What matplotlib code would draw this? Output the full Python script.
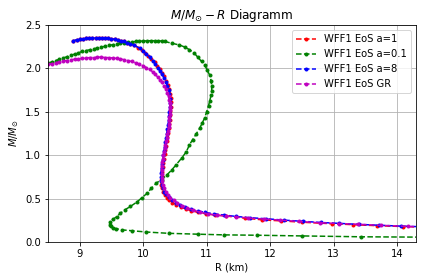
import matplotlib
matplotlib.use("Agg")
import matplotlib.pyplot as plt

# ---- data (R in km, M in solar masses) ----
R_a1 = [8.90, 8.95, 9.00, 9.05, 9.10, 9.15, 9.20, 9.25, 9.30, 9.35, 9.40, 9.45, 9.50, 9.55, 9.60,
        9.65, 9.70, 9.75, 9.80, 9.86, 9.92, 9.98, 10.03, 10.08, 10.13, 10.18, 10.22, 10.26, 10.30,
        10.33, 10.36, 10.39, 10.41, 10.43, 10.44, 10.44, 10.44, 10.43, 10.43, 10.42, 10.41, 10.40,
        10.39, 10.38, 10.37, 10.36, 10.35, 10.34, 10.33, 10.32, 10.31, 10.30, 10.29, 10.28, 10.28,
        10.29, 10.31, 10.34, 10.37, 10.41, 10.46, 10.52, 10.59, 10.67, 10.76, 10.87, 10.99, 11.13,
        11.30, 11.60, 11.88, 12.18, 12.50, 12.98, 13.30, 13.68, 14.10, 14.50]
M_a1 = [2.315, 2.325, 2.335, 2.34, 2.345, 2.35, 2.352, 2.354, 2.355, 2.354, 2.352, 2.348, 2.343, 2.337, 2.33,
        2.32, 2.31, 2.298, 2.285, 2.265, 2.24, 2.21, 2.18, 2.145, 2.11, 2.07, 2.03, 1.99, 1.95,
        1.91, 1.86, 1.81, 1.76, 1.71, 1.66, 1.61, 1.56, 1.51, 1.46, 1.41, 1.36, 1.31,
        1.26, 1.21, 1.16, 1.11, 1.06, 1.01, 0.96, 0.91, 0.86, 0.81, 0.76, 0.71, 0.66,
        0.62, 0.58, 0.545, 0.51, 0.48, 0.455, 0.43, 0.405, 0.38, 0.36, 0.34, 0.325, 0.31,
        0.30, 0.275, 0.255, 0.243, 0.228, 0.21, 0.20, 0.188, 0.178, 0.17]

R_a01 = [8.50, 8.56, 8.62, 8.68, 8.74, 8.80, 8.86, 8.92, 8.98, 9.04, 9.10, 9.16, 9.22, 9.28, 9.34,
         9.40, 9.46, 9.52, 9.58, 9.64, 9.70, 9.76, 9.82, 9.88, 9.94, 10.00, 10.06, 10.12, 10.18,
         10.24, 10.30, 10.34, 10.45, 10.57, 10.66, 10.73, 10.80, 10.86, 10.92, 10.97, 11.01, 11.05,
         11.07, 11.08, 11.08, 11.07, 11.05, 11.03, 11.00, 10.97, 10.93, 10.89, 10.84, 10.78, 10.73,
         10.68, 10.61, 10.52, 10.45, 10.37, 10.29, 10.21, 10.13, 10.06, 9.98, 9.90, 9.80, 9.71,
         9.64, 9.58, 9.52, 9.48, 9.47, 9.49, 9.52, 9.57, 9.66, 9.82, 10.05, 10.40, 10.86, 11.28,
         11.79, 12.50, 13.44, 14.60]
M_a01 = [2.06, 2.075, 2.09, 2.105, 2.12, 2.135, 2.15, 2.165, 2.18, 2.195, 2.205, 2.215, 2.225, 2.235, 2.245,
         2.255, 2.265, 2.273, 2.28, 2.288, 2.295, 2.30, 2.305, 2.31, 2.313, 2.316, 2.318, 2.319, 2.319,
         2.318, 2.315, 2.31, 2.29, 2.27, 2.245, 2.215, 2.18, 2.13, 2.08, 2.04, 1.98, 1.92,
         1.86, 1.80, 1.74, 1.69, 1.63, 1.57, 1.50, 1.43, 1.37, 1.31, 1.25, 1.18, 1.12,
         1.04, 0.97, 0.89, 0.83, 0.77, 0.72, 0.68, 0.62, 0.56, 0.51, 0.46, 0.41, 0.37,
         0.33, 0.29, 0.26, 0.23, 0.20, 0.18, 0.165, 0.155, 0.14, 0.13, 0.115, 0.10, 0.09, 0.082,
         0.078, 0.07, 0.06, 0.055]

R_a8 = [8.90, 8.95, 9.00, 9.05, 9.10, 9.15, 9.20, 9.25, 9.30, 9.35, 9.40, 9.45, 9.50, 9.55, 9.60,
        9.65, 9.70, 9.75, 9.80, 9.85, 9.95, 10.00, 10.05, 10.10, 10.15, 10.19, 10.23, 10.27, 10.30,
        10.33, 10.36, 10.38, 10.40, 10.41, 10.42, 10.42, 10.42, 10.41, 10.41, 10.40, 10.39, 10.38,
        10.37, 10.36, 10.35, 10.34, 10.33, 10.32, 10.31, 10.30, 10.29, 10.28, 10.28, 10.28, 10.29,
        10.31, 10.33, 10.36, 10.40, 10.45, 10.51, 10.58, 10.66, 10.75, 10.86, 10.98, 11.12, 11.28,
        11.46, 11.68, 11.94, 12.22, 12.52, 12.80, 13.08, 13.40, 13.72, 14.06, 14.42]
M_a8 = [2.32, 2.33, 2.335, 2.34, 2.345, 2.35, 2.35, 2.352, 2.352, 2.35, 2.35, 2.345, 2.34, 2.335, 2.33,
        2.32, 2.31, 2.295, 2.28, 2.27, 2.23, 2.20, 2.165, 2.13, 2.09, 2.05, 2.01, 1.97, 1.93,
        1.89, 1.84, 1.80, 1.75, 1.70, 1.65, 1.60, 1.55, 1.50, 1.45, 1.40, 1.35, 1.30,
        1.25, 1.20, 1.15, 1.10, 1.05, 1.00, 0.95, 0.90, 0.85, 0.80, 0.75, 0.70, 0.66,
        0.62, 0.58, 0.55, 0.515, 0.485, 0.455, 0.43, 0.405, 0.38, 0.36, 0.34, 0.325, 0.31,
        0.295, 0.28, 0.268, 0.252, 0.238, 0.225, 0.215, 0.203, 0.193, 0.183, 0.175]

R_gr = [8.50, 8.56, 8.62, 8.68, 8.74, 8.80, 8.86, 8.92, 8.98, 9.04, 9.10, 9.16, 9.22, 9.28, 9.34,
        9.40, 9.46, 9.52, 9.58, 9.64, 9.70, 9.76, 9.82, 9.88, 9.94, 10.00, 10.05, 10.10, 10.15,
        10.19, 10.23, 10.27, 10.30, 10.33, 10.36, 10.38, 10.40, 10.41, 10.42, 10.42, 10.42, 10.42,
        10.41, 10.41, 10.40, 10.40, 10.39, 10.38, 10.37, 10.36, 10.35, 10.34, 10.33, 10.32, 10.31,
        10.30, 10.29, 10.29, 10.29, 10.29, 10.30, 10.31, 10.33, 10.36, 10.39, 10.43, 10.48, 10.54, 10.61,
        10.69, 10.78, 10.89, 11.02, 11.16, 11.31, 11.47, 11.66, 11.90, 12.15, 12.45, 12.78, 13.08,
        13.38, 13.75, 14.17, 14.60]
M_gr = [2.045, 2.055, 2.065, 2.075, 2.085, 2.09, 2.10, 2.105, 2.11, 2.115, 2.12, 2.125, 2.125, 2.13, 2.13,
        2.125, 2.125, 2.12, 2.115, 2.11, 2.10, 2.09, 2.08, 2.065, 2.05, 2.03, 2.01, 1.99, 1.96,
        1.93, 1.90, 1.87, 1.84, 1.80, 1.76, 1.72, 1.68, 1.64, 1.60, 1.56, 1.52, 1.48,
        1.44, 1.40, 1.36, 1.32, 1.28, 1.24, 1.20, 1.16, 1.12, 1.08, 1.04, 1.00, 0.96,
        0.92, 0.88, 0.83, 0.78, 0.74, 0.70, 0.66, 0.62, 0.58, 0.545, 0.51, 0.48, 0.45, 0.42,
        0.395, 0.37, 0.345, 0.325, 0.31, 0.30, 0.29, 0.277, 0.265, 0.253, 0.237, 0.222, 0.213,
        0.205, 0.192, 0.18, 0.17]

labels = ["WFF1 EoS a=1", "WFF1 EoS a=0.1", "WFF1 EoS a=8", "WFF1 EoS GR"]

fig = plt.figure(figsize=(423 / 72, 280 / 72), dpi=72)
ax = fig.add_axes([48 / 423, 1 - 242 / 280, (416 - 48) / 423, (242 - 25) / 280])

ax.plot(R_a1, M_a1, 'r--.', label=labels[0])
ax.plot(R_a01, M_a01, 'g--.', label=labels[1])
ax.plot(R_a8, M_a8, 'b--.', label=labels[2])
ax.plot(R_gr, M_gr, 'm--.', label=labels[3])

ax.set_xlim(8.5, 14.3)
ax.set_ylim(0.0, 2.5)
ax.set_xticks([9, 10, 11, 12, 13, 14])
ax.set_yticks([0.0, 0.5, 1.0, 1.5, 2.0, 2.5])
ax.grid(True)
ax.set_title(r"$M/M_{\odot}-R$ Diagramm")
ax.set_xlabel("R (km)")
ax.set_ylabel(r"$M/M_{\odot}$")
ax.legend(loc="upper right")

fig.savefig("out.png", dpi=72)
